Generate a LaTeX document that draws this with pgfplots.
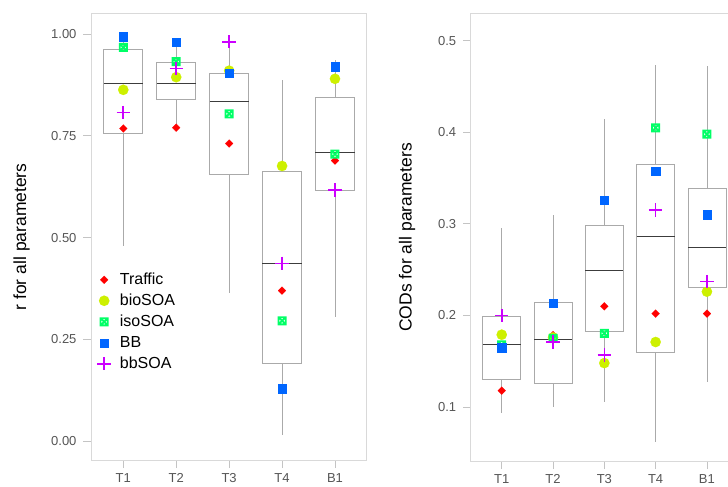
\documentclass[border=0pt]{standalone}
\usepackage{fontspec}
\setmainfont{Liberation Sans}
\usepackage{pgfplots}
\usepackage{pgfplotstable}
\pgfplotsset{compat=1.18}
\usepgfplotslibrary{statistics}

\definecolor{cTraffic}{HTML}{FF0000}
\definecolor{cbio}{HTML}{CDF000}
\definecolor{ciso}{HTML}{00FF66}
\definecolor{cBB}{HTML}{0066FF}
\definecolor{cbb}{HTML}{CC00FF}
\definecolor{framec}{HTML}{D9D9D9}
\definecolor{boxc}{HTML}{AAAAAA}
\definecolor{medc}{HTML}{3C3C3C}
\definecolor{tickc}{HTML}{555555}
\definecolor{tickm}{HTML}{C4C4C4}

\pgfdeclareplotmark{boxx}{%
  \pgfpathrectangle{\pgfqpoint{-\pgfplotmarksize}{-\pgfplotmarksize}}{\pgfqpoint{2\pgfplotmarksize}{2\pgfplotmarksize}}%
  \pgfpathmoveto{\pgfqpoint{-\pgfplotmarksize}{-\pgfplotmarksize}}\pgfpathlineto{\pgfqpoint{\pgfplotmarksize}{\pgfplotmarksize}}%
  \pgfpathmoveto{\pgfqpoint{-\pgfplotmarksize}{\pgfplotmarksize}}\pgfpathlineto{\pgfqpoint{\pgfplotmarksize}{-\pgfplotmarksize}}%
  \pgfusepathqstroke}

\pgfplotstableread{
x traffic bio iso bb bbsoa
1 0.768 0.863 0.967 0.994 0.807
2 0.770 0.894 0.932 0.980 0.915
3 0.731 0.910 0.804 0.904 0.981
4 0.370 0.676 0.296 0.130 0.437
5 0.689 0.890 0.705 0.920 0.617
}\rdata

\pgfplotstableread{
x traffic bio iso bb bbsoa
1 0.118 0.179 0.168 0.165 0.200
2 0.1786 0.176 0.175 0.2135 0.171
3 0.210 0.148 0.1805 0.326 0.157
4 0.202 0.171 0.405 0.358 0.315
5 0.202 0.226 0.398 0.310 0.237
}\cdata

\pgfplotsset{
  mypanel/.style={
    scale only axis,
    xmin=0.39,
    xtick={1,2,3,4,5}, xticklabels={T1,T2,T3,T4,B1},
    axis line style={framec, line width=0.8pt},
    tick style={tickm, line width=0.8pt},
    major tick length=7.5pt, tick align=outside, tick pos=left,
    ticklabel style={font=\fontsize{13}{13}\selectfont, text=tickc},
    xticklabel style={yshift=-3pt, inner sep=2pt},
    yticklabel style={xshift=-3.5pt},
    /pgf/number format/assume math mode=true,
    boxplot/draw direction=y,
    boxplot/box extend=0.74,
    boxplot/whisker extend=0,
    boxplot/every box/.style={draw=boxc, line width=0.8pt},
    boxplot/every whisker/.style={draw=boxc, line width=0.8pt},
    boxplot/every median/.style={draw=medc, line width=1pt},
    legend image code/.code={\draw[##1] plot coordinates {(0pt,0pt)};},
  },
  ptTraffic/.style={only marks, mark=square*, mark size=2.8pt,
    mark options={rotate=45, fill=cTraffic, draw=cTraffic, line width=0.1pt}},
  ptbio/.style={only marks, mark=*, mark size=5.2pt,
    mark options={fill=cbio, draw=cbio, line width=0.1pt}},
  ptiso/.style={only marks, mark=boxx, mark size=3.6pt,
    mark options={draw=ciso, line width=1.8pt}},
  ptBB/.style={only marks, mark=square*, mark size=4.2pt,
    mark options={fill=cBB, draw=cBB, line width=0.1pt}},
  ptbb/.style={only marks, mark=+, mark size=6.7pt,
    mark options={draw=cbb, line width=1.6pt}},
  bx/.style={forget plot, boxplot prepared={#1}},
}

\begin{document}
\begin{tikzpicture}
\begin{axis}[mypanel,
  at={(91pt,26.3pt)}, anchor=south west,
  width=275pt, height=447.7pt,
  xmax=5.586, ymin=-0.0476, ymax=1.0516,
  ytick={0,0.25,0.5,0.75,1}, yticklabels={0.00,0.25,0.50,0.75,1.00},
  ylabel={r for all parameters},
  every axis y label/.style={at={(axis description cs:-0.252,0.5)}, rotate=90, anchor=center,
    font=\fontsize{17.5}{17.5}\selectfont},
  legend style={at={(axis description cs:0.012,0.428)}, anchor=north west,
    draw=none, fill=none, font=\fontsize{16}{16}\selectfont,
    nodes={inner sep=1pt, text height=12pt, text depth=3pt},
    row sep=4pt,
    /tikz/every odd column/.append style={column sep=8pt}},
  legend cell align=left,
]
\addplot[bx={draw position=1, lower whisker=0.48, lower quartile=0.757, median=0.879, upper quartile=0.963, upper whisker=0.99}] coordinates {};
\addplot[bx={draw position=2, lower whisker=0.77, lower quartile=0.840, median=0.878, upper quartile=0.931, upper whisker=0.98}] coordinates {};
\addplot[bx={draw position=3, lower whisker=0.364, lower quartile=0.656, median=0.834, upper quartile=0.904, upper whisker=0.98}] coordinates {};
\addplot[bx={draw position=4, lower whisker=0.016, lower quartile=0.192, median=0.437, upper quartile=0.663, upper whisker=0.886}] coordinates {};
\addplot[bx={draw position=5, lower whisker=0.304, lower quartile=0.616, median=0.710, upper quartile=0.844, upper whisker=0.935}] coordinates {};
\addplot[ptTraffic] table[x=x, y=traffic] {\rdata};
\addplot[ptbio] table[x=x, y=bio] {\rdata};
\addplot[ptiso] table[x=x, y=iso] {\rdata};
\addplot[ptBB] table[x=x, y=bb] {\rdata};
\addplot[ptbb] table[x=x, y=bbsoa] {\rdata};
\legend{Traffic,bioSOA,isoSOA,BB,bbSOA}
\end{axis}

\begin{axis}[mypanel,
  at={(470.7pt,25.3pt)}, anchor=south west,
  width=267pt, height=448.4pt,
  xmin=0.395, xmax=5.6, ymin=0.0403, ymax=0.530,
  ytick={0.1,0.2,0.3,0.4,0.5}, yticklabels={0.1,0.2,0.3,0.4,0.5},
  ylabel={CODs for all parameters},
  every axis y label/.style={at={(axis description cs:-0.2386,0.5)}, rotate=90, anchor=center,
    font=\fontsize{17.5}{17.5}\selectfont},
]
\addplot[bx={draw position=1, lower whisker=0.094, lower quartile=0.1306, median=0.168, upper quartile=0.199, upper whisker=0.296}] coordinates {};
\addplot[bx={draw position=2, lower whisker=0.100, lower quartile=0.126, median=0.174, upper quartile=0.2143, upper whisker=0.310}] coordinates {};
\addplot[bx={draw position=3, lower whisker=0.106, lower quartile=0.183, median=0.249, upper quartile=0.298, upper whisker=0.415}] coordinates {};
\addplot[bx={draw position=4, lower whisker=0.062, lower quartile=0.160, median=0.286, upper quartile=0.3645, upper whisker=0.474}] coordinates {};
\addplot[bx={draw position=5, lower whisker=0.127, lower quartile=0.231, median=0.274, upper quartile=0.339, upper whisker=0.4726}] coordinates {};
\addplot[ptTraffic] table[x=x, y=traffic] {\cdata};
\addplot[ptbio] table[x=x, y=bio] {\cdata};
\addplot[ptiso] table[x=x, y=iso] {\cdata};
\addplot[ptBB] table[x=x, y=bb] {\cdata};
\addplot[ptbb] table[x=x, y=bbsoa] {\cdata};
\end{axis}
\pgfresetboundingbox
\path[use as bounding box] (0pt,0pt) rectangle (728pt,487pt);
\end{tikzpicture}
\end{document}
